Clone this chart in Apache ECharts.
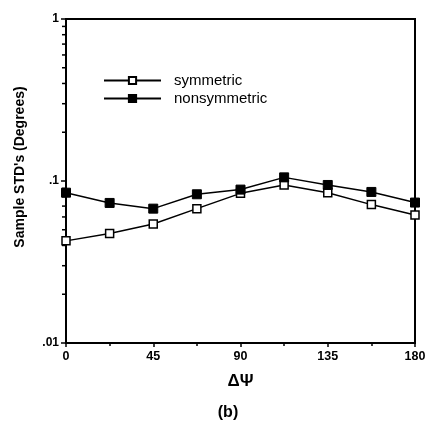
<!DOCTYPE html>
<html><head><meta charset="utf-8">
<script src="https://cdn.jsdelivr.net/npm/echarts@6/dist/echarts.min.js"></script>
<style>html,body{margin:0;padding:0;background:#fff}#c{width:431px;height:429px}</style>
</head><body><div id="c"></div>
<script>
const xValues = [0, 22.5, 45, 67.5, 90, 112.5, 135, 157.5, 180];
const symmetric = [0.0427, 0.0474, 0.0543, 0.0675, 0.0839, 0.0945, 0.0847, 0.0715, 0.0617];
const nonsymmetric = [0.0847, 0.0732, 0.0675, 0.0828, 0.0885, 0.1053, 0.0945, 0.0856, 0.0736];
const yTickLabels = {1: '1', 0.1: '.1', 0.01: '.01'};
const minorTickValues = [0.02,0.03,0.04,0.05,0.06,0.07,0.08,0.09,0.2,0.3,0.4,0.5,0.6,0.7,0.8,0.9];

const chart = echarts.init(document.getElementById('c'));
const F = 'Liberation Sans, Arial, Helvetica, sans-serif';
const pairs = a => xValues.map((x, i) => [x, a[i]]);
chart.setOption({
  backgroundColor: '#fff',
  animation: false,
  grid: {left: 66, right: 16, top: 19, bottom: 86, show: true, borderColor: '#000', borderWidth: 2, backgroundColor: 'transparent'},
  legend: {
    orient: 'vertical', left: 98, top: 67, itemWidth: 57, itemHeight: 9, itemGap: 1,
    data: ['symmetric', 'nonsymmetric'],
    textStyle: {fontFamily: F, fontSize: 15, color: '#000', padding: [0, 0, 0, 8], lineHeight: 17}
  },
  xAxis: {
    type: 'value', min: 0, max: 180, interval: 45,
    name: 'ΔΨ', nameLocation: 'middle', nameGap: 30,
    nameTextStyle: {fontFamily: F, fontSize: 17, fontWeight: 'bold', color: '#000'},
    axisLine: {lineStyle: {color: '#000', width: 2}},
    axisTick: {length: 4, lineStyle: {color: '#000', width: 1.5}},
    minorTick: {show: true, splitNumber: 2, length: 3, lineStyle: {color: '#000', width: 1.5}},
    axisLabel: {fontFamily: F, fontSize: 12.5, fontWeight: 'bold', color: '#000', margin: 7},
    splitLine: {show: false}
  },
  yAxis: {
    type: 'log', min: 0.01, max: 1, logBase: 10,
    axisLine: {show: true, lineStyle: {color: '#000', width: 2}},
    axisTick: {show: true, length: 5, lineStyle: {color: '#000', width: 1.5}},
    axisLabel: {fontFamily: F, fontSize: 12, fontWeight: 'bold', color: '#000', margin: 7,
      formatter: v => yTickLabels[+v.toPrecision(3)] || ''},
    splitLine: {show: false}
  },
  graphic: [
    {type: 'text', rotation: Math.PI / 2, x: 20, y: 167,
      style: {text: "Sample STD's (Degrees)", font: 'bold 14px ' + F, fill: '#000', align: 'center', verticalAlign: 'middle'}},
    {type: 'text', x: 228, y: 413,
      style: {text: '(b)', font: 'bold 16px ' + F, fill: '#000', align: 'center', verticalAlign: 'middle'}}
  ],
  series: [
    {name: 'symmetric', type: 'line', data: pairs(symmetric), symbol: 'rect', symbolSize: 8,
      lineStyle: {color: '#000', width: 1.5}, itemStyle: {color: '#fff', borderColor: '#000', borderWidth: 1.5}, z: 3},
    {name: 'nonsymmetric', type: 'line', data: pairs(nonsymmetric), symbol: 'rect', symbolSize: 9,
      lineStyle: {color: '#000', width: 1.5}, itemStyle: {color: '#000', borderColor: '#000', borderWidth: 1}, z: 4},
    {name: 'minorTicks', type: 'custom', silent: true, clip: false,
      data: minorTickValues.map(v => [0, v]),
      renderItem: (params, api) => {
        const p = api.coord([0, api.value(1)]);
        return {type: 'line', shape: {x1: p[0] - 4, y1: p[1], x2: p[0], y2: p[1]}, style: {stroke: '#000', lineWidth: 1.5}};
      }}
  ]
});
</script></body></html>
